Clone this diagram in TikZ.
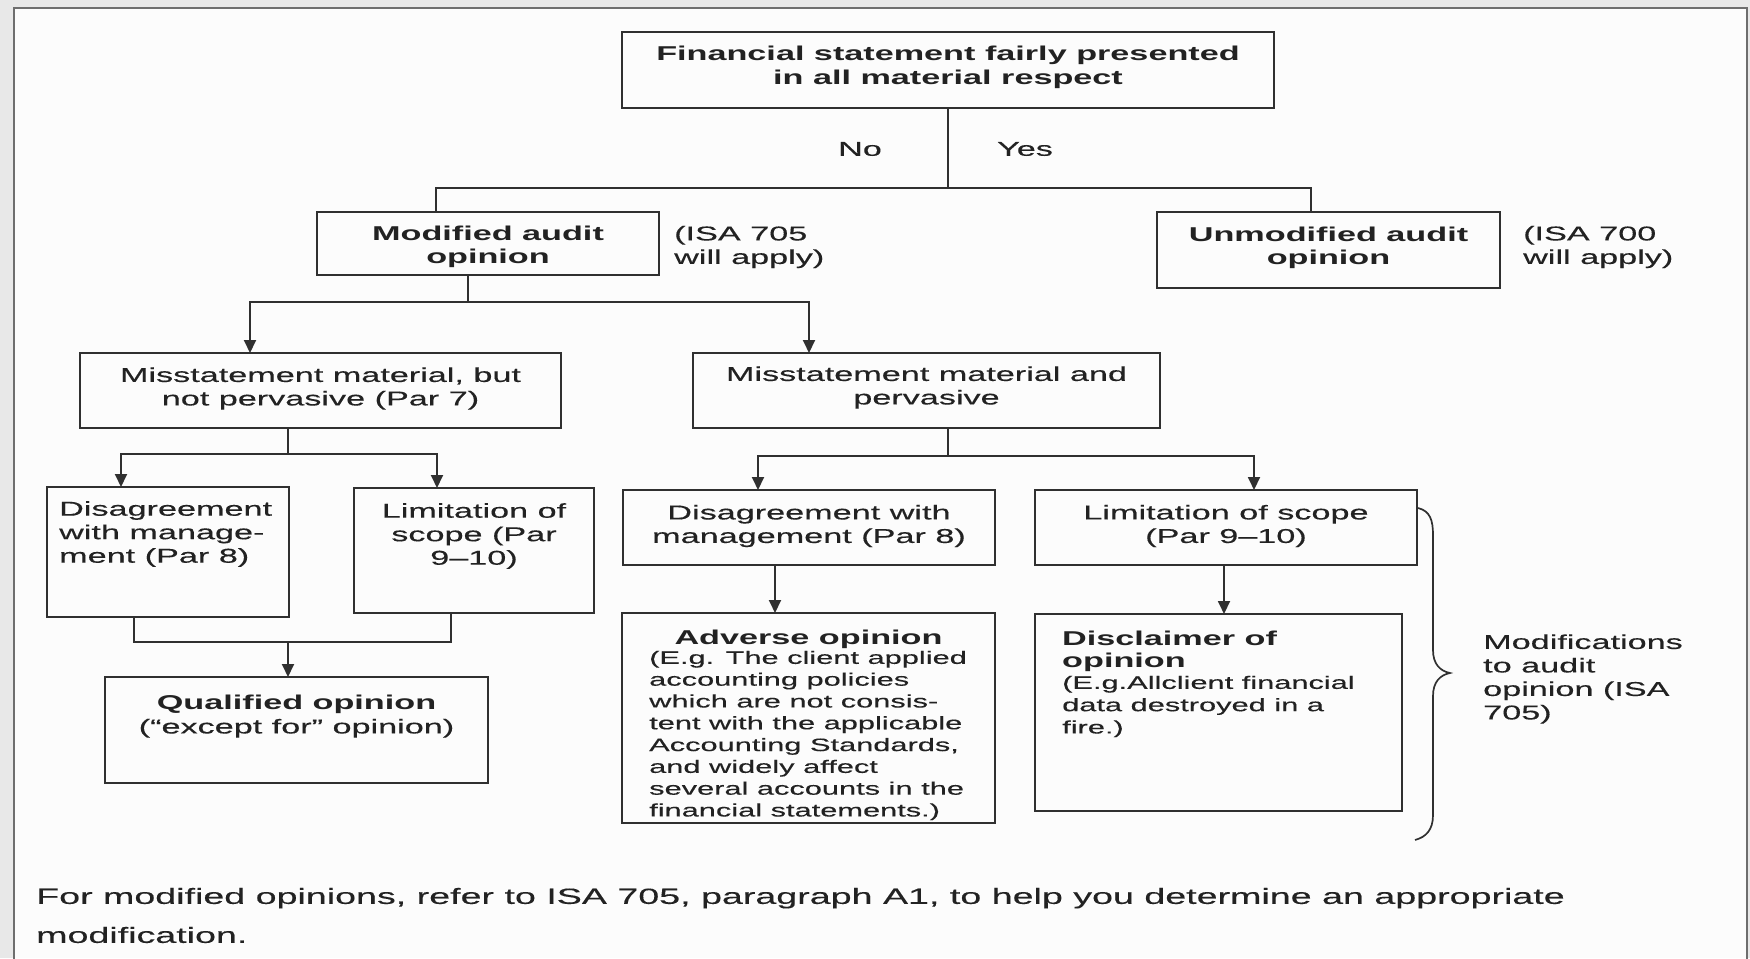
\documentclass[tikz,border=0pt]{standalone}
\usepackage{fontspec}
\setmainfont{Liberation Sans}[FakeStretch=1.71, UprightFeatures={FakeBold=0.3}]
\usetikzlibrary{arrows.meta,calc}
\definecolor{ln}{HTML}{303030}
\definecolor{tx}{HTML}{222222}
\definecolor{fr}{HTML}{6E6E6E}
\definecolor{bgout}{HTML}{E8E8E8}
\definecolor{bgin}{HTML}{FCFCFC}
\begin{document}
\begin{tikzpicture}[x=1pt,y=-1pt,
  box/.style={draw=ln, line width=1.9pt, inner sep=0pt, outer sep=0pt},
  conn/.style={draw=ln, line width=1.9pt, line join=miter},
  arr/.style={conn, -{Triangle[width=12pt,length=13pt]}},
  txt/.style={text=tx, inner sep=0pt, font=\fontsize{20}{23.5}\selectfont, align=center},
  txl/.style={txt, align=left},
  small/.style={text=tx, inner sep=0pt, font=\fontsize{18}{21.8}\selectfont, align=left},
  foot/.style={text=tx, inner sep=0pt, font=\fontsize{22}{39}\selectfont, align=left}
]
\useasboundingbox (0,0) rectangle (1750,958);
\fill[bgout] (0,0) rectangle (1750,958);
\fill[bgin] (14,8) rectangle (1747,958);
\draw[fr, line width=2.6pt] (14,960) -- (14,8) -- (1747,8) -- (1747,960);

% boxes
\node[box, minimum width=652pt, minimum height=76pt] (top) at (948,70) {};
\node[box, minimum width=342pt, minimum height=63pt] (mod) at (488,243.5) {};
\node[box, minimum width=343pt, minimum height=76pt] (unmod) at (1328.5,250) {};
\node[box, minimum width=481pt, minimum height=75pt] (msl) at (320.5,390.5) {};
\node[box, minimum width=467pt, minimum height=75pt] (msr) at (926.5,390.5) {};
\node[box, minimum width=242pt, minimum height=130pt] (dl) at (168,552) {};
\node[box, minimum width=240pt, minimum height=125pt] (ll) at (474,550.5) {};
\node[box, minimum width=383pt, minimum height=106pt] (qo) at (296.5,730) {};
\node[box, minimum width=372pt, minimum height=75pt] (dr) at (809,527.5) {};
\node[box, minimum width=382pt, minimum height=75pt] (lr) at (1226,527.5) {};
\node[box, minimum width=373pt, minimum height=210pt] (adv) at (808.5,718) {};
\node[box, minimum width=367pt, minimum height=197pt] (dis) at (1218.5,712.5) {};

% texts
\node[txt, font=\fontsize{20}{23.5}\selectfont\bfseries] (toptx) at (948,67.5) {Financial statement fairly presented\\in all material respect};
\node[txt] (no) at (860,149) {No};
\node[txt] (yes) at (1025,149) {Yes};
\node[txt, font=\fontsize{20}{23.5}\selectfont\bfseries] (modtx) at (488,247) {Modified audit\\opinion};
\node[txl, anchor=west] (isa705) at (674,247) {(ISA 705\\will apply)};
\node[txt, font=\fontsize{20}{23.5}\selectfont\bfseries] (unmodtx) at (1328.5,248) {Unmodified audit\\opinion};
\node[txl, anchor=west] (isa700) at (1523,247) {(ISA 700\\will apply)};
\node[txt] (msltx) at (320.5,388.5) {Misstatement material, but\\not pervasive (Par 7)};
\node[txt] (msrtx) at (926.5,387.5) {Misstatement material and\\pervasive};
\node[txl, anchor=west] (dltx) at (59,534) {Disagreement\\with manage-\\ment (Par 8)};
\node[txt] (lltx) at (474,536) {Limitation of\\scope (Par\\9--10)};
\node[txt] (qotx) at (296.5,716.5) {\bfseries Qualified opinion\\(``except for'' opinion)};
\node[txt] (drtx) at (809,526) {Disagreement with\\management (Par 8)};
\node[txt] (lrtx) at (1226,526) {Limitation of scope\\(Par 9--10)};
\node[txt, font=\fontsize{20}{23.5}\selectfont\bfseries] (advtt) at (808.5,639) {Adverse opinion};
\node[small, anchor=west] (advtx) at (649,735.5) {(E.g. The client applied\\accounting policies\\which are not consis-\\tent with the applicable\\Accounting Standards,\\and widely affect\\several accounts in the\\financial statements.)};
\node[txl, anchor=west, font=\fontsize{20}{22.3}\selectfont\bfseries] (distt) at (1062,651) {Disclaimer of\\opinion};
\node[small, anchor=west, font=\fontsize{18}{22.3}\selectfont] (distx) at (1062,706.5) {(E.g.Allclient financial\\data destroyed in a\\fire.)};
\node[txl, anchor=west] (modif) at (1483,679) {Modifications\\to audit\\opinion (ISA\\705)};
\node[foot, anchor=west] (foottx) at (36,915.5) {For modified opinions, refer to ISA 705, paragraph A1, to help you determine an appropriate\\modification.};

% connectors
\coordinate (j1) at (948,188);
\draw[conn] (top.south) -- (j1);
\draw[conn] (j1) -| ($(mod.north)+(-52,0)$);
\draw[conn] (j1) -| ($(unmod.north)+(-17.5,0)$);

\coordinate (j2) at (468,302);
\draw[conn] ($(mod.south)+(-20,0)$) -- (j2);
\draw[arr] (j2) -| ($(msl.north)+(-70.5,0)$);
\draw[arr] (j2) -| ($(msr.north)+(-117.5,0)$);

\coordinate (j3) at (288,454);
\draw[conn] ($(msl.south)+(-32.5,0)$) -- (j3);
\draw[arr] (j3) -| ($(dl.north)+(-47,0)$);
\draw[arr] (j3) -| ($(ll.north)+(-37,0)$);

\coordinate (j4) at (288,642);
\draw[conn] ($(dl.south)+(-34,0)$) -- ++(0,25) -| ($(ll.south)+(-23,0)$);
\draw[arr] (j4) -- (qo.north -| j4);

\coordinate (j5) at (948,456);
\draw[conn] ($(msr.south)+(21.5,0)$) -- (j5);
\draw[arr] (j5) -| ($(dr.north)+(-51,0)$);
\draw[arr] (j5) -| ($(lr.north)+(28,0)$);

\draw[arr] ($(dr.south)+(-34,0)$) -- ($(adv.north)+(-33.5,0)$);
\draw[arr] ($(lr.south)+(-2,0)$) -- ($(dis.north)+(5.5,0)$);

% brace
\draw[conn, line width=1.7pt] (1418,508) .. controls (1430,511) and (1433,520) .. (1433,535) -- (1433,650) .. controls (1433,664) and (1440,671) .. (1450,673) .. controls (1440,675) and (1433,682) .. (1433,696) -- (1433,815) .. controls (1433,830) and (1426,837) .. (1415,840);
\end{tikzpicture}
\end{document}
